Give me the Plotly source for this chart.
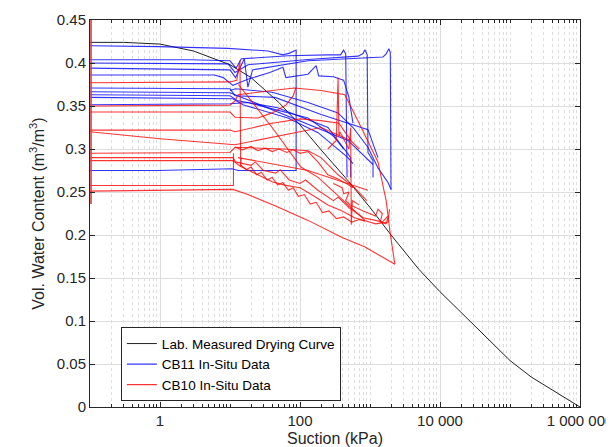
import plotly.graph_objects as go

# Lab measured drying curve
lab_suction = [0.1, 0.3, 1, 3, 10, 20, 50, 100, 200, 500, 1000, 2000, 5000, 10000,
               20000, 50000, 100000, 200000, 500000, 1000000]
lab_vwc = [0.424, 0.424, 0.422, 0.414, 0.398, 0.383, 0.354, 0.328, 0.299, 0.262, 0.232,
           0.200, 0.160, 0.134, 0.110, 0.078, 0.054, 0.035, 0.015, 0.0]

# CB11 in-situ data (segments)
cb11_suction = [
    [0.1, 0.94, 9.4, 35, 57, 71, 88, 88, 13, 10.7, 0.94, 0.1],
    [0.1, 2.7, 10, 12.2, 14.5, 67, 251, 380, 420, 450, 470],
    [0.1, 9.4, 11.8, 18.1, 130, 674, 794, 849, 912, 936, 1104, 1104],
    [0.1, 4.85, 10, 12, 16, 18, 21, 130, 674, 1534, 1700, 1862, 1950, 1995],
    [0.1, 6, 8, 11, 18, 37, 57, 63, 130, 170, 185, 300, 420, 500, 571],
    [0.1, 10, 11.8, 44, 200, 380, 936, 1300],
    [0.1, 10, 11.8, 79, 485, 1104],
    [0.1, 10, 13, 48, 251, 530, 530],
    [0.1, 11, 15.3, 67, 181, 485, 571],
    [0.1, 10, 18, 130, 300, 420],
    [10, 12, 40, 130, 349, 571, 936, 1300, 1808, 1995],
]
cb11_vwc = [
    [0.420, 0.419, 0.417, 0.414, 0.4095, 0.4115, 0.415, 0.275, 0.275, 0.277, 0.275, 0.275],
    [0.4037, 0.4037, 0.4026, 0.394, 0.4049, 0.4084, 0.4095, 0.4095, 0.415, 0.4106, 0.267],
    [0.400, 0.399, 0.389, 0.398, 0.404, 0.408, 0.411, 0.4153, 0.4095, 0.296, 0.2865, 0.267],
    [0.394, 0.393, 0.392, 0.383, 0.405, 0.372, 0.392, 0.4026, 0.406, 0.407, 0.4106, 0.4165, 0.412, 0.253],
    [0.386, 0.386, 0.383, 0.374, 0.381, 0.389, 0.395, 0.383, 0.387, 0.397, 0.385, 0.384, 0.38, 0.36, 0.33],
    [0.371, 0.370, 0.362, 0.360, 0.340, 0.333, 0.3225, 0.29],
    [0.3666, 0.3654, 0.3631, 0.336, 0.31, 0.282],
    [0.363, 0.362, 0.356, 0.348, 0.325, 0.29, 0.267],
    [0.36, 0.3585, 0.3515, 0.336, 0.319, 0.29, 0.283],
    [0.3515, 0.3527, 0.354, 0.336, 0.315, 0.30],
    [0.368, 0.37, 0.366, 0.354, 0.342, 0.325, 0.302, 0.278, 0.261, 0.253],
]

# CB10 in-situ data (segments)
cb10_suction = [
    [0.1, 10, 12.5, 13.9, 14.2, 14.5],
    [0.1, 10, 11.8, 13, 40, 83, 200, 437, 700, 1300, 1700, 1950, 2264, 849, 400, 130, 44, 18, 11, 0.1],
    [0.1, 10, 11.8, 25, 40, 63, 80, 87],
    [0.1, 10, 11.8, 40, 100, 200, 360, 530],
    [0.1, 1, 11.8, 50, 200, 530, 700],
    [0.1, 10, 11.8, 60, 130, 200, 350, 600, 900],
    [0.1, 11, 12, 20, 23, 30, 45, 52, 70, 100, 120, 180, 300, 350, 500, 800, 1200, 1500, 1800],
    [0.1, 11, 14, 25, 40, 60, 100, 160, 250, 400, 600, 900, 1200, 1800, 1900],
    [0.1, 11.2, 11.2],
    [250, 330, 350, 360, 370, 500, 530, 540, 560, 700],
    [13.2, 40, 103, 181, 849],
    [13, 130, 936],
    [300, 400, 420, 500, 450, 520, 800, 1200, 1300, 1500, 1400, 1700, 1800],
    [14, 17, 20, 24, 28, 34, 40, 48, 57, 68, 80, 95, 115, 140, 170, 210, 260, 330, 420, 550, 700, 849],
    [11.8, 15, 20, 25, 32, 40, 50, 65, 80, 100, 130, 180, 250, 350, 500, 571],
]
cb10_vwc = [
    [0.377, 0.378, 0.38, 0.403, 0.28, 0.29],
    [0.350, 0.351, 0.356, 0.363, 0.368, 0.371, 0.368, 0.363, 0.33, 0.285, 0.24, 0.201, 0.166, 0.186, 0.197, 0.217, 0.234, 0.247, 0.253, 0.251],
    [0.343, 0.343, 0.337, 0.336, 0.342, 0.351, 0.362, 0.371],
    [0.322, 0.322, 0.32, 0.33, 0.335, 0.333, 0.33, 0.31],
    [0.320, 0.312, 0.305, 0.315, 0.325, 0.31, 0.3],
    [0.295, 0.296, 0.302, 0.300, 0.298, 0.29, 0.27, 0.255, 0.24],
    [0.29, 0.29, 0.285, 0.281, 0.285, 0.275, 0.272, 0.276, 0.264, 0.26, 0.264, 0.252, 0.24, 0.244, 0.232, 0.22, 0.217, 0.215, 0.222],
    [0.2865, 0.2865, 0.28, 0.27, 0.262, 0.258, 0.255, 0.245, 0.235, 0.228, 0.22, 0.216, 0.213, 0.215, 0.23],
    [0.2575, 0.2575, 0.295],
    [0.3, 0.31, 0.383, 0.315, 0.32, 0.3, 0.325, 0.212, 0.24, 0.235],
    [0.375, 0.325, 0.279, 0.267, 0.217],
    [0.29, 0.275, 0.252],
    [0.26, 0.255, 0.248, 0.25, 0.24, 0.235, 0.228, 0.222, 0.23, 0.225, 0.215, 0.213, 0.22],
    [0.282, 0.276, 0.279, 0.27, 0.273, 0.264, 0.267, 0.258, 0.261, 0.252, 0.255, 0.245, 0.247, 0.236, 0.238, 0.226, 0.228, 0.219, 0.221, 0.215, 0.218, 0.216],
    [0.302, 0.299, 0.303, 0.298, 0.301, 0.297, 0.3, 0.296, 0.299, 0.295, 0.297, 0.285, 0.27, 0.265, 0.258, 0.255],
]
cb10_edge_suction = [0.1, 0.1]
cb10_edge_vwc = [0.236, 0.46]

x_tickvals = [1, 100, 10000, 1000000]
x_ticktext = ["1", "100", "10 000", "1 000 000"]


def join(segs):
    out = []
    for s in segs:
        out += list(s) + [None]
    return out


minor_vals = []
for e in range(-1, 6):
    for m in range(1, 10):
        v = m * 10 ** e
        if v not in x_tickvals and v > 0.1:
            minor_vals.append(v)

fig = go.Figure()
fig.add_trace(go.Scatter(x=lab_suction, y=lab_vwc, mode="lines", name="Lab. Measured Drying Curve",
                         line=dict(color="#222222", width=1)))
fig.add_trace(go.Scatter(x=join(cb11_suction), y=join(cb11_vwc), mode="lines", name="CB11 In-Situ Data",
                         line=dict(color="rgba(0,0,255,0.8)", width=1.1)))
fig.add_trace(go.Scatter(x=join(cb10_suction), y=join(cb10_vwc), mode="lines", name="CB10 In-Situ Data",
                         line=dict(color="rgba(255,0,0,0.8)", width=1.1)))
fig.add_trace(go.Scatter(x=cb10_edge_suction, y=cb10_edge_vwc, mode="lines", showlegend=False,
                         line=dict(color="rgba(220,60,60,0.8)", width=4)))

font = "Liberation Sans, Arial, sans-serif"
fig.update_layout(
    width=614, height=447,
    margin=dict(l=82, r=42, t=12, b=48, autoexpand=False),
    paper_bgcolor="white", plot_bgcolor="white",
    font=dict(family=font, size=15, color="#262626"),
    showlegend=True,
    legend=dict(x=0.063, y=0.206, xanchor="left", yanchor="top",
                bgcolor="white", bordercolor="#262626", borderwidth=1,
                font=dict(size=13.5, color="#000000"), tracegroupgap=0),
)
fig.update_xaxes(
    type="log", range=[-1, 6], automargin=True,
    tickvals=x_tickvals, ticktext=x_ticktext,
    ticks="inside", ticklen=5, tickcolor="#262626",
    showline=True, linecolor="#262626", linewidth=1, mirror="ticks",
    showgrid=True, gridcolor="#dedede", gridwidth=1,
    zeroline=False,
    minor=dict(tickvals=minor_vals, ticks="inside", ticklen=3, tickcolor="#262626",
               showgrid=True, gridcolor="#dddddd", griddash="dot", gridwidth=1),
    title=dict(text="Suction (kPa)", font=dict(size=16, color="#262626"), standoff=4),
)
fig.update_yaxes(
    range=[0, 0.45], dtick=0.05, tick0=0, automargin=True,
    ticks="inside", ticklen=5, tickcolor="#262626",
    showline=True, linecolor="#262626", linewidth=1, mirror="ticks",
    showgrid=True, gridcolor="#dedede", gridwidth=1, zeroline=False,
    title=dict(text="Vol. Water Content (m<sup>3</sup>/m<sup>3</sup>)", font=dict(size=16, color="#262626"), standoff=8),
)
fig.write_html("out.html")
